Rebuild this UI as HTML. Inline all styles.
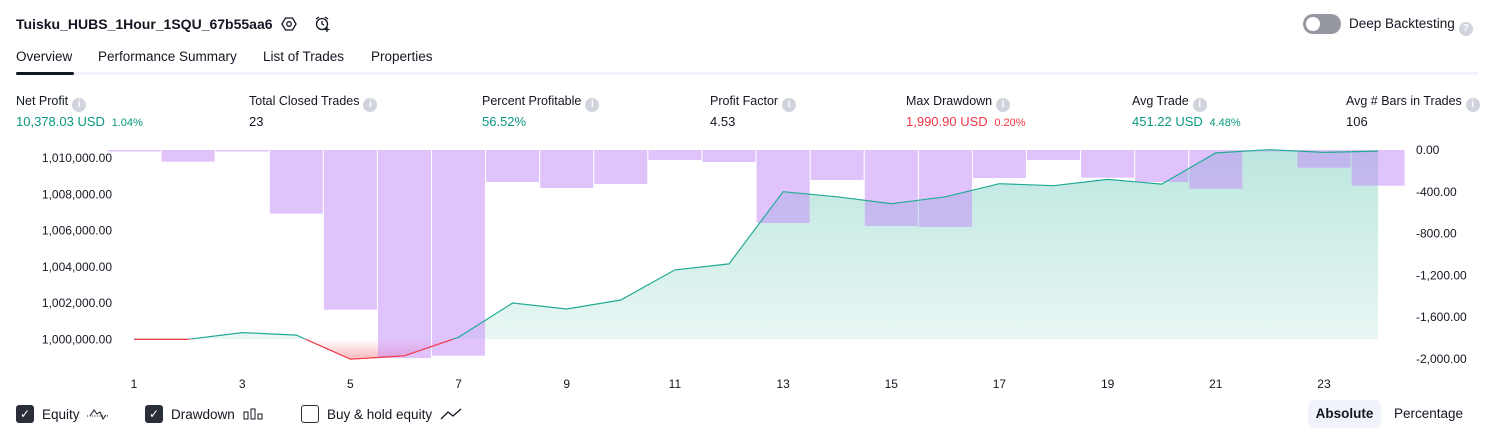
<!DOCTYPE html>
<html><head><meta charset="utf-8">
<style>
body{margin:0;width:1494px;height:438px;background:#fff;font-family:"Liberation Sans",sans-serif;color:#131722;position:relative;overflow:hidden}
.a{position:absolute;white-space:nowrap}
.info{display:inline-block;width:14px;height:14px;border-radius:50%;background:#d1d4dc;color:#fff;font-size:10px;line-height:14px;text-align:center;vertical-align:-2px;margin-left:4px;font-weight:bold}
.lbl{font-size:12.5px;color:#131722}
.val{font-size:13px}
.g{color:#089981}.r{color:#f23645}
.leg{display:flex;align-items:center;height:20px}
.cb{display:inline-block;width:18px;height:18px;border-radius:3px;margin-right:8px;box-sizing:border-box}
.on{background:#2a2e39;color:#fff;font-size:12px;text-align:center;line-height:18px}
.off{border:1.5px solid #2a2e39}
</style></head><body>
<div class="a" style="left:16px;top:16px;font-size:14px;font-weight:bold">Tuisku_HUBS_1Hour_1SQU_67b55aa6</div>
<svg class="a" style="left:281px;top:16px" width="16" height="16" viewBox="0 0 16 16"><path d="M4.5 2h7l3.5 6-3.5 6h-7L1 8z" fill="none" stroke="#131722" stroke-width="1.3"/><circle cx="8" cy="8" r="2.3" fill="none" stroke="#131722" stroke-width="1.3"/></svg>
<svg class="a" style="left:314px;top:15px" width="18" height="18" viewBox="0 0 18 18"><circle cx="8" cy="9" r="5.5" fill="none" stroke="#131722" stroke-width="1.3"/><path d="M8 6v3l2 1M2 4l3-2M14 4l-3-2M13 12v5M10.5 14.5h5" fill="none" stroke="#131722" stroke-width="1.3"/></svg>
<div class="a" style="left:1303px;top:14px;width:38px;height:20px;border-radius:10px;background:#9598a1"><div style="position:absolute;left:3px;top:3px;width:14px;height:14px;border-radius:50%;background:#fff"></div></div>
<div class="a" style="left:1349px;top:16px;font-size:13.5px">Deep Backtesting<span class="info" style="font-size:10px;vertical-align:-3px">?</span></div>
<div class="a" style="left:16px;top:49px;font-size:13.5px">Overview</div>
<div class="a" style="left:98px;top:49px;font-size:13.5px">Performance Summary</div>
<div class="a" style="left:263px;top:49px;font-size:13.5px">List of Trades</div>
<div class="a" style="left:371px;top:49px;font-size:13.5px">Properties</div>
<div class="a" style="left:16px;top:72px;width:1462px;height:3px;background:#f0f3fa"></div>
<div class="a" style="left:16px;top:72px;width:58px;height:3px;background:#131722;border-radius:2px"></div>

<div class="a" style="left:16px;top:94px"><div class="lbl">Net Profit<span class="info">i</span></div><div class="val g" style="margin-top:2px">10,378.03 USD <span style="font-size:11px">&nbsp;1.04%</span></div></div>
<div class="a" style="left:249px;top:94px"><div class="lbl">Total Closed Trades<span class="info">i</span></div><div class="val" style="margin-top:2px">23</div></div>
<div class="a" style="left:482px;top:94px"><div class="lbl">Percent Profitable<span class="info">i</span></div><div class="val g" style="margin-top:2px">56.52%</div></div>
<div class="a" style="left:710px;top:94px"><div class="lbl">Profit Factor<span class="info">i</span></div><div class="val" style="margin-top:2px">4.53</div></div>
<div class="a" style="left:906px;top:94px"><div class="lbl">Max Drawdown<span class="info">i</span></div><div class="val r" style="margin-top:2px">1,990.90 USD <span style="font-size:11px">&nbsp;0.20%</span></div></div>
<div class="a" style="left:1132px;top:94px"><div class="lbl">Avg Trade<span class="info">i</span></div><div class="val g" style="margin-top:2px">451.22 USD <span style="font-size:11px">&nbsp;4.48%</span></div></div>
<div class="a" style="left:1346px;top:94px"><div class="lbl">Avg # Bars in Trades<span class="info">i</span></div><div class="val" style="margin-top:2px">106</div></div>

<svg id="chart" class="a" style="left:0;top:0" width="1494" height="438"></svg>

<div class="a leg" style="left:16px;top:404px;font-size:13.5px"><span class="cb on">✓</span>Equity <svg width="24" height="14" style="margin-left:6px"><path d="M1 9h22" stroke="#131722" stroke-dasharray="1 1.5"/><path d="M4 9l4-6 3 4 3-2 3 7 3-4" fill="none" stroke="#131722" stroke-width="1"/></svg></div>
<div class="a leg" style="left:145px;top:404px;font-size:13.5px"><span class="cb on">✓</span>Drawdown <svg width="20" height="12" style="margin-left:8px"><rect x="1" y="4" width="4" height="7" fill="none" stroke="#131722"/><rect x="8" y="1" width="4" height="10" fill="none" stroke="#131722"/><rect x="15" y="6" width="4" height="5" fill="none" stroke="#131722"/></svg></div>
<div class="a leg" style="left:301px;top:404px;font-size:13.5px"><span class="cb off"></span>Buy &amp; hold equity <svg width="22" height="14" style="margin-left:8px"><path d="M1 12l7-7 5 4 8-7" fill="none" stroke="#131722" stroke-width="1.3"/></svg></div>
<div class="a" style="left:1308px;top:400px;width:73px;height:28px;border-radius:6px;background:#f0f3fa;font-size:13.5px;font-weight:bold;line-height:28px;text-align:center">Absolute</div>
<div class="a" style="left:1394px;top:406px;font-size:13.5px">Percentage</div>

<script>
const tradeNums=[1,2,3,4,5,6,7,8,9,10,11,12,13,14,15,16,17,18,19,20,21,22,23,24];
const equity=[1000000,1000000,1000370,1000230,998900,999090,1000110,1002000,1001670,1002170,1003830,1004160,1008140,1007860,1007480,1007860,1008580,1008470,1008820,1008560,1010280,1010460,1010310,1010378];
const drawdown=[-10,-112,-10,-610,-1528,-1991,-1968,-306,-364,-325,-96,-115,-699,-287,-727,-737,-268,-96,-265,-306,-370,0,-169,-342];
const leftTicks=[1000000,1002000,1004000,1006000,1008000,1010000];
const rightTicks=[0,-400,-800,-1200,-1600,-2000];
const xTicks=[1,3,5,7,9,11,13,15,17,19,21,23];

const NS="http://www.w3.org/2000/svg";
const svg=document.getElementById('chart');
const X=i=>134+(i-1)*54.09;
const YL=v=>339.3-(v-1000000)*(181.3/10000);
const YR=v=>150-v*(209/2000);
const base=YL(1000000);
function mk(tag,at,parent){const e=document.createElementNS(NS,tag);for(const k in at)e.setAttribute(k,at[k]);(parent||svg).appendChild(e);return e;}
const defs=mk('defs',{});
defs.innerHTML='<linearGradient id="gg" x1="0" y1="150" x2="0" y2="'+base+'" gradientUnits="userSpaceOnUse"><stop offset="0" stop-color="#22ab94" stop-opacity="0.3"/><stop offset="1" stop-color="#22ab94" stop-opacity="0.1"/></linearGradient><linearGradient id="rg" x1="0" y1="'+base+'" x2="0" y2="362" gradientUnits="userSpaceOnUse"><stop offset="0" stop-color="#f23645" stop-opacity="0"/><stop offset="1" stop-color="#f23645" stop-opacity="0.4"/></linearGradient><clipPath id="above"><rect x="0" y="0" width="1494" height="'+base+'"/></clipPath><clipPath id="below"><rect x="0" y="'+base+'" width="1494" height="200"/></clipPath>';

let pts=equity.map((v,i)=>X(tradeNums[i]).toFixed(1)+','+YL(v).toFixed(1)).join(' ');
let area='M'+X(1)+','+base+' L'+pts+' L'+X(tradeNums[tradeNums.length-1])+','+base+' Z';
const ga=mk('path',{d:area,fill:'url(#gg)','clip-path':'url(#above)'});

const ra=mk('path',{d:area,fill:'url(#rg)','clip-path':'url(#below)'});


drawdown.forEach((d,i)=>{
  const cx=X(tradeNums[i]);
  const b=mk('rect',{x:(cx-26.5).toFixed(1),y:YR(0),width:53,height:Math.max(YR(d)-YR(0),1.5).toFixed(1),fill:'rgba(195,135,250,0.5)'});
  
  
});

const gl=mk('polyline',{points:pts,fill:'none',stroke:'#22ab94','stroke-width':1.2,'clip-path':'url(#above)'});

const rl=mk('polyline',{points:pts,fill:'none',stroke:'#f23645','stroke-width':1.2,'clip-path':'url(#below)'});

const fl=mk('line',{x1:X(1),y1:base,x2:X(2),y2:base,stroke:'#f23645','stroke-width':1.2});


function fmt(v){return v.toLocaleString('en-US',{minimumFractionDigits:2,maximumFractionDigits:2});}
leftTicks.forEach(v=>{
  const t=mk('text',{x:112,y:YL(v)+4,'text-anchor':'end','font-size':12,fill:'#131722','font-family':'Liberation Sans, sans-serif'});
  t.textContent=fmt(v);
  
});
rightTicks.forEach(v=>{
  const t=mk('text',{x:1416,y:YR(v)+4,'font-size':12,fill:'#131722','font-family':'Liberation Sans, sans-serif'});
  t.textContent=fmt(v);
  
});
xTicks.forEach(v=>{
  const t=mk('text',{x:X(v),y:388,'text-anchor':'middle','font-size':12,fill:'#131722','font-family':'Liberation Sans, sans-serif'});
  t.textContent=v;
  
});
</script>
</body></html>
